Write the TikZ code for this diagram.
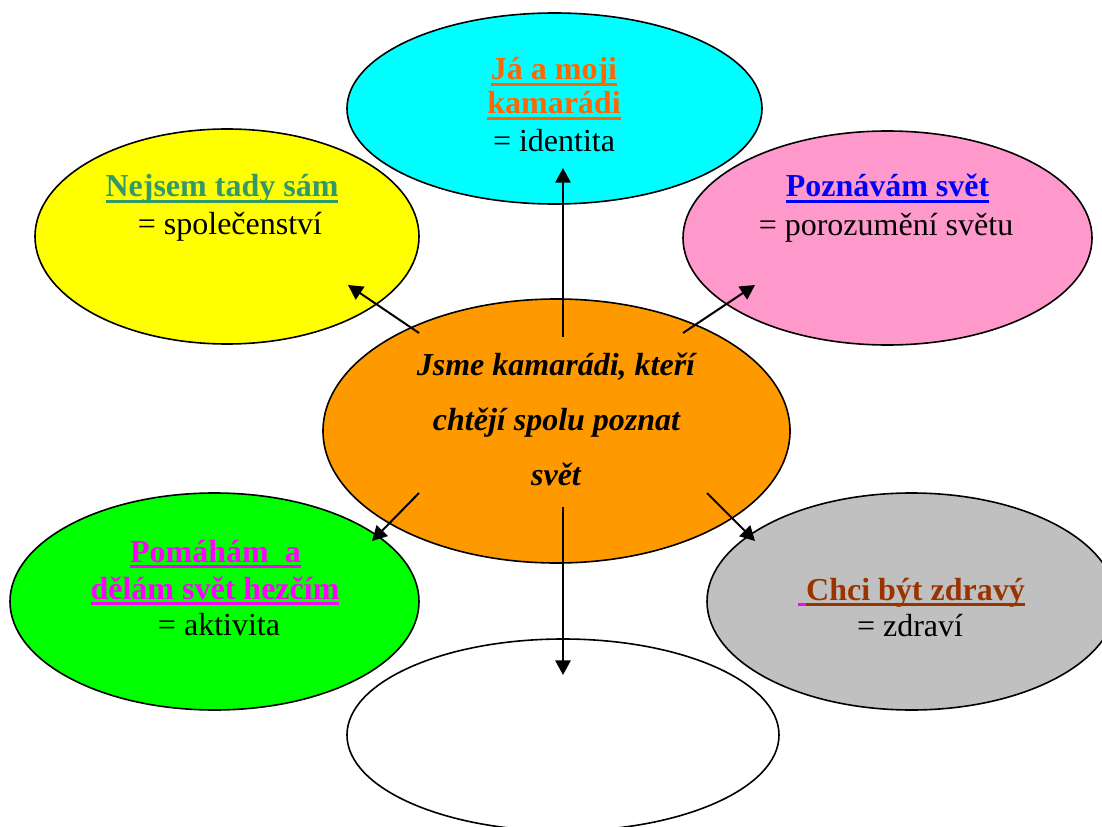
\documentclass[tikz,border=0pt]{standalone}
\usepackage{fontspec}
\setmainfont{Liberation Serif}
\usetikzlibrary{shapes.geometric,arrows.meta}
\definecolor{cCyan}{HTML}{00FFFF}
\definecolor{cYellow}{HTML}{FFFF00}
\definecolor{cPink}{HTML}{FF99CC}
\definecolor{cOrange}{HTML}{FF9900}
\definecolor{cGreen}{HTML}{00FF00}
\definecolor{cGray}{HTML}{C0C0C0}
\definecolor{tOrange}{HTML}{FF6600}
\definecolor{tTeal}{HTML}{339966}
\definecolor{tBlue}{HTML}{0000FF}
\definecolor{tMagenta}{HTML}{FF00FF}
\definecolor{tBrown}{HTML}{993300}
\newcommand\myul[2]{{\color{#1}\setbox0\hbox{\bfseries #2}\rlap{\rule[-4.2pt]{\wd0}{2pt}}\box0}}
\newcommand\grayhead{{\color{tBrown}\bfseries\setbox0\hbox{\ }\setbox2\hbox{Chci být zdravý}\rlap{{\color{tMagenta}\rule[-4.2pt]{\wd0}{2pt}}}\rlap{\hskip\wd0\rule[-4.2pt]{\wd2}{2pt}}\box0\box2}}
\tikzset{
  bubble/.style={ellipse, draw=black, line width=1.2pt, inner sep=0pt},
  txt/.style={anchor=base, inner sep=0pt, font=\fontsize{24}{28}\selectfont},
  ctxt/.style={txt, font=\fontsize{24}{28}\selectfont\bfseries\itshape},
  conn/.style={line width=1.5pt, -{Triangle[length=11pt,width=11.5pt]}}
}
\begin{document}
\begin{tikzpicture}[x=0.75pt,y=-0.75pt]
\useasboundingbox (0,0) rectangle (1102,827);
\clip (0,0) rectangle (1102,827);
% ellipses
\node[bubble, fill=cCyan, minimum width=311.25pt, minimum height=143.25pt] (cyan) at (554.5,108.5) {};
\node[bubble, fill=cYellow, minimum width=288pt, minimum height=161.25pt] (yellow) at (227,236.5) {};
\node[bubble, fill=cPink, minimum width=306.75pt, minimum height=160.5pt] (pink) at (887.5,238) {};
\node[bubble, fill=cOrange, minimum width=350.25pt, minimum height=198pt] (center) at (556.5,431) {};
\node[bubble, fill=cGreen, minimum width=306.75pt, minimum height=162.75pt] (green) at (214.5,601.5) {};
\node[bubble, fill=cGray, minimum width=306.75pt, minimum height=162.75pt] (gray) at (911.5,601.5) {};
\node[bubble, fill=white, minimum width=324pt, minimum height=144pt] (white) at (563,735) {};
% texts
\node[txt] (c1) at (554,80) {\myul{tOrange}{Já a moji}};
\node[txt] (c2) at (554,114) {\myul{tOrange}{kamarádi}};
\node[txt] (c3) at (554,152) {= identita};
\node[txt] (y1) at (222,197) {\myul{tTeal}{Nejsem tady sám}};
\node[txt] (y2) at (230,235) {= společenství};
\node[txt] (p1) at (887.5,197) {\myul{tBlue}{Poznávám svět}};
\node[txt] (p2) at (886,236) {= porozumění světu};
\node[ctxt] (m1) at (556,375) {Jsme kamarádi, kteří};
\node[ctxt] (m2) at (556.5,430) {chtějí spolu poznat};
\node[ctxt] (m3) at (556,485) {svět};
\node[txt] (g1) at (215.5,562) {\myul{tMagenta}{Pomáhám\ \ a}};
\node[txt] (g2) at (215,599) {\myul{tMagenta}{dělám svět hezčím}};
\node[txt] (g3) at (219,635) {= aktivita};
\node[txt] (s1) at (911.5,600) {\grayhead};
\node[txt] (s2) at (910,636) {= zdraví};
% connector ends
\coordinate (upA) at (563,337);   \coordinate (upB) at (563,168);
\coordinate (ylA) at (419,333);   \coordinate (ylB) at (348,285);
\coordinate (pkA) at (683,333);   \coordinate (pkB) at (755,285);
\coordinate (grA) at (419,493);   \coordinate (grB) at (372,541);
\coordinate (gyA) at (707,493);   \coordinate (gyB) at (755,541);
\coordinate (dnA) at (563,507);   \coordinate (dnB) at (563,675);
\draw[conn] (upA) -- (upB);
\draw[conn] (ylA) -- (ylB);
\draw[conn] (pkA) -- (pkB);
\draw[conn] (grA) -- (grB);
\draw[conn] (gyA) -- (gyB);
\draw[conn] (dnA) -- (dnB);
\end{tikzpicture}
\end{document}
